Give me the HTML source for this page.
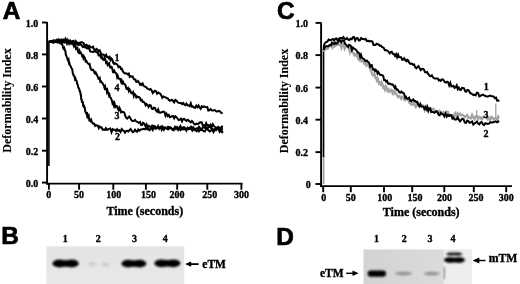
<!DOCTYPE html><html><head><meta charset="utf-8"><style>html,body{margin:0;padding:0;background:#fff;}svg{display:block;will-change:transform}</style></head><body>
<svg width="520" height="284" viewBox="0 0 520 284">
<rect width="520" height="284" fill="#fff"/>
<text x="2.8" y="19.3" font-family="Liberation Sans, sans-serif" font-weight="bold" stroke="#000" stroke-width="0.7" font-size="24.4">A</text>
<text x="277" y="19.2" font-family="Liberation Sans, sans-serif" font-weight="bold" stroke="#000" stroke-width="0.7" font-size="24.4">C</text>
<text x="1.3" y="244.3" font-family="Liberation Sans, sans-serif" font-weight="bold" stroke="#000" stroke-width="0.7" font-size="24.4">B</text>
<text x="276.2" y="245.2" font-family="Liberation Sans, sans-serif" font-weight="bold" stroke="#000" stroke-width="0.7" font-size="24.4">D</text>
<line x1="47.1" y1="22" x2="47.1" y2="184.6" stroke="#000" stroke-width="1.9"/>
<line x1="46.2" y1="183.6" x2="242.5" y2="183.6" stroke="#000" stroke-width="1.9"/>
<line x1="42" y1="22.5" x2="47.1" y2="22.5" stroke="#000" stroke-width="1.9"/>
<text x="38.2" y="26.8" font-family="Liberation Serif, serif" font-weight="bold" stroke="#000" stroke-width="0.35" font-size="10" text-anchor="end">1.0</text>
<line x1="42" y1="54.4" x2="47.1" y2="54.4" stroke="#000" stroke-width="1.9"/>
<text x="38.2" y="58.699999999999996" font-family="Liberation Serif, serif" font-weight="bold" stroke="#000" stroke-width="0.35" font-size="10" text-anchor="end">0.8</text>
<line x1="42" y1="86.5" x2="47.1" y2="86.5" stroke="#000" stroke-width="1.9"/>
<text x="38.2" y="90.8" font-family="Liberation Serif, serif" font-weight="bold" stroke="#000" stroke-width="0.35" font-size="10" text-anchor="end">0.6</text>
<line x1="42" y1="118.5" x2="47.1" y2="118.5" stroke="#000" stroke-width="1.9"/>
<text x="38.2" y="122.8" font-family="Liberation Serif, serif" font-weight="bold" stroke="#000" stroke-width="0.35" font-size="10" text-anchor="end">0.4</text>
<line x1="42" y1="150.7" x2="47.1" y2="150.7" stroke="#000" stroke-width="1.9"/>
<text x="38.2" y="155.0" font-family="Liberation Serif, serif" font-weight="bold" stroke="#000" stroke-width="0.35" font-size="10" text-anchor="end">0.2</text>
<line x1="42" y1="182.6" x2="47.1" y2="182.6" stroke="#000" stroke-width="1.9"/>
<text x="38.2" y="186.9" font-family="Liberation Serif, serif" font-weight="bold" stroke="#000" stroke-width="0.35" font-size="10" text-anchor="end">0.0</text>
<line x1="48.9" y1="183.6" x2="48.9" y2="189.7" stroke="#000" stroke-width="1.9"/>
<text x="48.75" y="198.4" font-family="Liberation Serif, serif" font-weight="bold" stroke="#000" stroke-width="0.35" font-size="10" text-anchor="middle">0</text>
<line x1="79.1" y1="183.6" x2="79.1" y2="189.7" stroke="#000" stroke-width="1.9"/>
<text x="78.9" y="198.4" font-family="Liberation Serif, serif" font-weight="bold" stroke="#000" stroke-width="0.35" font-size="10" text-anchor="middle">50</text>
<line x1="113.3" y1="183.6" x2="113.3" y2="189.7" stroke="#000" stroke-width="1.9"/>
<text x="113.7" y="198.4" font-family="Liberation Serif, serif" font-weight="bold" stroke="#000" stroke-width="0.35" font-size="10" text-anchor="middle">100</text>
<line x1="145.9" y1="183.6" x2="145.9" y2="189.7" stroke="#000" stroke-width="1.9"/>
<text x="148.4" y="198.4" font-family="Liberation Serif, serif" font-weight="bold" stroke="#000" stroke-width="0.35" font-size="10" text-anchor="middle">150</text>
<line x1="177.2" y1="183.6" x2="177.2" y2="189.7" stroke="#000" stroke-width="1.9"/>
<text x="177.1" y="198.4" font-family="Liberation Serif, serif" font-weight="bold" stroke="#000" stroke-width="0.35" font-size="10" text-anchor="middle">200</text>
<line x1="207.3" y1="183.6" x2="207.3" y2="189.7" stroke="#000" stroke-width="1.9"/>
<text x="209.8" y="198.4" font-family="Liberation Serif, serif" font-weight="bold" stroke="#000" stroke-width="0.35" font-size="10" text-anchor="middle">250</text>
<line x1="241.4" y1="183.6" x2="241.4" y2="189.7" stroke="#000" stroke-width="1.9"/>
<text x="241.45" y="198.4" font-family="Liberation Serif, serif" font-weight="bold" stroke="#000" stroke-width="0.35" font-size="10" text-anchor="middle">300</text>
<text x="144.8" y="215.3" font-family="Liberation Serif, serif" font-weight="bold" stroke="#000" stroke-width="0.35" font-size="12" text-anchor="middle">Time (seconds)</text>
<text transform="translate(10.6,100.5) rotate(-90)" font-family="Liberation Serif, serif" font-weight="bold" stroke="#000" stroke-width="0.12" font-size="12" text-anchor="middle">Deformability Index</text>
<line x1="48.9" y1="166" x2="48.9" y2="41.5" stroke="#000" stroke-width="1.6"/>
<path d="M48.8,41.5 L49.7,41.5 L50.9,41.3 L52.3,41.3 L53.7,40.5 L55.0,41.9 L56.2,41.9 L57.3,41.2 L58.4,39.3 L60.0,40.6 L60.9,39.9 L61.9,39.7 L63.0,42.2 L64.1,42.5 L65.3,39.1 L66.5,42.2 L67.7,41.4 L68.9,40.7 L70.0,40.5 L71.1,42.1 L72.2,41.5 L73.4,42.6 L74.5,42.7 L75.6,41.1 L76.7,43.6 L77.8,44.7 L78.9,44.9 L80.0,43.9 L81.2,42.2 L82.5,42.4 L83.8,43.3 L85.0,46.6 L86.3,44.8 L87.4,45.4 L88.5,47.7 L89.4,45.9 L90.9,47.4 L92.0,47.5 L93.0,46.7 L94.0,49.1 L95.2,50.7 L96.4,48.9 L97.6,49.8 L98.7,51.2 L99.7,50.4 L100.7,52.7 L101.6,54.4 L102.5,54.4 L103.7,54.6 L104.8,56.4 L106.1,54.7 L106.9,56.8 L107.7,56.7 L108.6,58.2 L109.6,57.1 L110.5,60.2 L111.4,58.5 L112.3,59.6 L113.2,62.7 L114.1,64.0 L114.9,63.1 L115.8,63.8 L116.7,64.1 L117.6,65.0 L118.4,67.1 L119.3,66.4 L120.2,67.0 L121.0,69.1 L121.9,68.8 L122.9,71.4 L123.9,72.8 L124.9,73.5 L125.9,73.2 L127.0,73.6 L127.9,74.5 L128.8,73.6 L129.7,76.8 L130.6,76.1 L131.6,76.7 L132.6,76.5 L133.5,78.5 L134.4,79.6 L135.4,79.6 L136.3,82.0 L137.2,81.9 L138.1,81.0 L139.1,82.6 L140.0,84.7 L140.9,83.9 L141.8,84.9 L142.7,83.6 L143.6,85.8 L144.5,86.3 L145.5,86.8 L146.5,87.5 L147.5,88.7 L148.5,89.1 L149.6,89.6 L150.6,89.0 L151.7,90.6 L152.8,93.1 L153.9,91.7 L154.9,90.8 L156.0,91.3 L157.1,93.7 L158.2,92.5 L159.2,93.1 L160.3,93.7 L161.3,95.4 L162.3,97.8 L163.4,96.5 L164.4,96.9 L165.5,97.3 L166.5,98.0 L167.6,98.3 L168.8,99.8 L169.8,100.8 L170.8,100.4 L171.9,99.8 L173.1,101.0 L174.2,102.3 L175.3,99.9 L176.5,100.5 L177.6,102.2 L178.7,102.8 L179.8,102.9 L180.9,102.9 L182.0,104.0 L183.1,103.0 L184.2,104.4 L185.3,105.2 L186.4,103.6 L187.5,105.4 L188.6,105.2 L189.7,106.1 L190.8,103.3 L191.9,106.7 L193.0,106.5 L194.1,107.5 L195.2,107.8 L196.3,105.6 L197.4,107.2 L198.5,105.5 L199.6,107.4 L200.7,108.8 L201.8,106.3 L202.9,107.1 L204.0,106.4 L205.1,107.0 L206.2,107.3 L207.3,107.1 L208.3,110.6 L209.4,110.4 L210.5,109.1 L211.6,110.4 L212.8,110.5 L213.9,110.2 L215.1,110.2 L216.4,111.4 L217.7,111.4 L218.9,110.8 L220.1,111.5 L221.1,112.8 L222.0,113.0 L222.7,112.8" fill="none" stroke="#000" stroke-width="2.0" stroke-linejoin="miter"/>
<path d="M48.8,41.5 L49.5,41.4 L50.3,41.5 L51.4,41.8 L52.5,41.2 L53.8,41.2 L55.1,41.4 L56.4,40.0 L57.7,41.1 L58.9,41.5 L60.0,42.1 L61.2,39.6 L62.4,40.4 L63.5,39.7 L64.7,42.3 L65.8,42.0 L66.9,39.8 L68.0,43.3 L69.0,43.3 L70.0,42.4 L71.3,42.4 L72.5,41.0 L73.6,40.8 L74.7,43.0 L75.8,41.6 L77.0,42.5 L78.1,43.1 L79.2,42.7 L80.4,44.7 L81.6,45.1 L82.8,47.0 L83.9,46.4 L85.0,47.3 L86.1,47.3 L87.1,48.4 L88.2,48.3 L89.2,48.2 L90.2,51.3 L91.1,51.8 L92.0,51.7 L93.3,51.9 L94.4,51.1 L95.4,51.4 L96.5,52.2 L97.6,52.1 L98.6,55.3 L99.7,54.7 L100.8,57.2 L101.6,56.3 L102.5,59.3 L103.5,59.8 L104.4,57.7 L105.3,59.4 L106.1,62.8 L106.9,62.1 L107.6,64.8 L108.4,63.6 L109.1,63.2 L109.7,66.1 L110.3,67.4 L111.1,66.7 L111.7,67.0 L112.3,68.8 L113.0,72.2 L113.6,72.3 L114.3,70.9 L115.0,72.4 L115.7,72.8 L116.5,73.7 L117.2,77.2 L117.8,75.9 L118.5,78.1 L119.2,78.7 L120.1,78.8 L121.1,81.9 L121.7,80.5 L122.4,83.1 L123.1,82.1 L123.9,84.0 L124.7,84.2 L125.5,85.3 L126.4,88.7 L127.2,89.0 L128.0,88.1 L128.8,91.0 L129.6,89.4 L130.4,90.8 L131.3,93.3 L132.1,93.3 L133.0,92.1 L133.8,96.0 L134.6,94.0 L135.5,94.8 L136.3,97.4 L137.2,96.5 L138.0,97.1 L138.9,97.0 L139.9,97.8 L140.8,100.4 L141.8,99.9 L142.7,101.9 L143.7,101.8 L144.6,102.7 L145.6,105.2 L146.5,104.1 L147.6,105.2 L148.6,106.9 L149.7,105.0 L150.8,105.5 L151.8,108.8 L152.9,109.1 L153.9,107.6 L154.9,107.9 L156.0,110.4 L157.1,111.7 L158.2,109.5 L159.2,112.6 L160.3,112.8 L161.3,112.3 L162.3,112.1 L163.4,111.5 L164.4,111.9 L165.5,115.8 L166.5,113.8 L167.6,116.0 L168.8,114.9 L169.8,117.3 L170.8,116.9 L171.9,116.1 L173.1,116.0 L174.2,118.3 L175.3,116.3 L176.5,117.2 L177.6,118.7 L178.7,120.1 L179.8,119.6 L180.9,118.7 L182.0,121.4 L183.1,119.1 L184.2,118.8 L185.3,120.0 L186.4,120.9 L187.5,119.8 L188.6,120.4 L189.7,121.4 L190.8,122.3 L191.9,120.9 L193.0,122.0 L194.1,124.1 L195.2,124.6 L196.3,123.7 L197.4,124.0 L198.5,123.9 L199.6,122.5 L200.7,122.3 L201.8,122.5 L202.9,125.9 L204.0,125.3 L205.1,126.4 L206.2,123.2 L207.3,125.6 L208.3,125.1 L209.4,126.2 L210.5,124.8 L211.6,127.4 L212.8,124.3 L213.9,126.1 L215.1,127.0 L216.4,127.8 L217.7,127.4 L218.9,127.5 L220.1,128.0 L221.1,128.6 L222.0,126.7 L222.7,127.3" fill="none" stroke="#000" stroke-width="2.0" stroke-linejoin="miter"/>
<path d="M48.8,41.5 L49.5,41.5 L50.3,41.6 L51.3,41.6 L52.4,40.8 L53.6,40.3 L54.9,41.0 L56.2,40.6 L57.5,42.5 L58.8,42.1 L60.0,41.9 L61.1,41.8 L62.2,42.2 L63.4,40.5 L64.5,41.6 L65.7,40.7 L66.9,43.5 L68.0,40.7 L69.1,43.6 L70.2,41.3 L71.2,43.8 L72.1,43.0 L73.0,43.8 L73.9,46.1 L74.7,43.9 L75.4,44.9 L76.1,48.9 L76.8,48.4 L77.4,47.9 L78.1,52.1 L78.8,52.9 L79.5,50.8 L80.2,52.8 L80.8,52.6 L81.5,54.1 L82.2,56.1 L82.9,55.4 L83.5,58.2 L84.2,56.8 L84.9,58.1 L85.6,61.3 L86.2,60.7 L86.9,61.7 L87.6,63.2 L88.3,63.7 L89.0,64.3 L89.6,64.0 L90.3,67.4 L91.0,69.2 L91.7,70.1 L92.4,69.9 L93.0,69.7 L93.7,70.6 L94.3,72.6 L95.0,73.5 L95.7,72.5 L96.4,73.9 L97.1,75.3 L97.8,76.8 L98.4,78.8 L99.0,78.6 L99.7,77.9 L100.3,81.7 L101.0,81.3 L101.7,82.7 L102.4,82.8 L103.2,84.6 L103.8,85.5 L104.5,87.9 L105.1,86.5 L105.6,89.0 L106.3,88.9 L106.9,91.8 L107.4,90.4 L107.9,92.2 L108.4,93.4 L109.0,95.6 L109.5,94.7 L110.1,97.4 L110.7,97.7 L111.3,99.0 L111.9,100.7 L112.5,103.4 L113.1,102.6 L113.8,105.3 L114.5,103.3 L115.3,106.9 L116.2,105.8 L117.0,106.0 L117.9,108.8 L118.7,110.2 L119.5,107.8 L120.3,109.6 L121.1,112.3 L121.9,111.6 L122.7,112.0 L123.5,112.0 L124.4,112.9 L125.2,115.7 L126.1,117.7 L127.2,118.6 L128.2,117.5 L129.3,116.5 L130.4,118.2 L131.5,120.4 L132.7,121.1 L133.8,120.9 L135.0,119.9 L136.2,121.5 L137.3,121.8 L138.6,122.8 L140.0,122.0 L141.0,124.8 L142.0,125.0 L143.1,122.8 L144.2,123.6 L145.4,126.1 L146.5,124.3 L147.6,127.0 L148.8,125.8 L150.0,126.7 L151.1,127.1 L152.3,125.5 L153.6,126.0 L155.0,126.1 L156.0,127.8 L157.0,127.9 L158.1,126.0 L159.3,128.7 L160.4,127.1 L161.6,126.5 L162.7,127.3 L163.9,129.3 L165.0,127.8 L166.1,128.1 L167.1,129.2 L168.1,129.4 L169.2,128.7 L170.2,127.4 L171.3,128.1 L172.4,129.2 L173.7,128.8 L175.0,128.1 L176.0,127.3 L177.0,127.4 L178.1,128.7 L179.2,128.1 L180.4,126.1 L181.6,128.6 L182.8,129.4 L184.0,129.0 L185.2,129.4 L186.4,129.4 L187.6,128.1 L188.8,129.0 L190.0,127.6 L191.1,126.6 L192.3,127.5 L193.4,127.4 L194.5,129.6 L195.6,128.8 L196.8,128.3 L197.9,128.6 L199.0,126.8 L200.2,128.3 L201.4,128.9 L202.5,127.9 L203.8,127.4 L205.0,128.0 L206.1,127.7 L207.2,129.0 L208.4,127.1 L209.7,126.9 L210.9,127.8 L212.2,129.2 L213.5,129.5 L214.8,129.1 L216.0,130.2 L217.2,128.2 L218.4,127.0 L219.5,128.7 L220.4,128.5 L221.3,127.6 L222.1,129.4 L222.7,128.8" fill="none" stroke="#000" stroke-width="2.0" stroke-linejoin="miter"/>
<path d="M48.8,41.8 L49.7,41.7 L50.9,42.0 L52.3,42.2 L53.7,42.7 L55.0,41.1 L56.2,41.1 L57.3,40.5 L58.4,40.7 L59.4,42.7 L60.5,41.3 L61.1,43.4 L61.6,43.1 L62.2,44.3 L62.7,45.9 L63.3,48.5 L63.8,49.0 L64.3,48.1 L64.9,50.3 L65.4,51.1 L65.8,54.7 L66.2,55.5 L66.6,56.5 L67.0,57.6 L67.4,58.4 L67.8,60.3 L68.2,60.8 L68.6,60.0 L69.0,63.2 L69.4,63.0 L69.8,65.1 L70.2,65.4 L70.6,66.1 L71.0,66.9 L71.5,68.2 L71.9,68.9 L72.3,69.2 L72.7,72.8 L73.1,73.8 L73.5,75.5 L73.9,75.6 L74.4,76.2 L74.8,78.1 L75.2,76.9 L75.6,80.0 L76.0,80.2 L76.4,80.4 L76.8,81.7 L77.2,84.0 L77.6,84.2 L78.0,86.1 L78.3,87.7 L78.7,88.1 L79.1,88.2 L79.4,90.6 L79.7,90.6 L80.1,91.9 L80.4,92.9 L80.6,94.6 L80.9,94.6 L81.1,97.7 L81.3,99.8 L81.6,98.8 L81.8,101.1 L82.1,102.9 L82.5,100.9 L82.8,102.2 L83.2,105.7 L83.6,106.8 L84.0,107.2 L84.4,106.6 L84.9,108.7 L85.3,111.4 L85.8,112.5 L86.2,113.3 L86.6,112.1 L87.1,115.4 L87.5,114.5 L88.1,117.0 L88.7,116.0 L89.3,120.0 L89.9,119.6 L90.5,120.9 L91.2,119.9 L91.8,122.1 L92.5,122.8 L93.3,123.7 L94.2,123.7 L95.1,125.8 L96.0,125.1 L96.9,125.6 L97.8,125.7 L98.8,128.2 L99.7,126.6 L100.7,127.5 L101.6,127.3 L102.6,129.7 L103.7,129.6 L105.0,129.9 L105.9,128.2 L107.0,129.8 L108.1,129.6 L109.2,128.8 L110.3,128.5 L111.5,132.2 L112.7,129.1 L113.9,129.8 L115.0,129.8 L116.1,131.0 L117.2,129.2 L118.3,130.7 L119.4,130.3 L120.6,132.0 L121.7,129.1 L122.8,130.3 L123.9,130.9 L125.0,132.6 L126.1,131.0 L127.2,130.8 L128.3,131.5 L129.4,130.1 L130.6,129.1 L131.7,130.8 L132.8,132.2 L133.9,131.5 L135.0,129.7 L136.1,131.2 L137.2,131.7 L138.3,129.5 L139.4,130.6 L140.6,129.7 L141.7,129.2 L142.8,129.2 L143.9,128.8 L145.0,129.3 L146.1,128.0 L147.2,129.2 L148.3,127.9 L149.4,130.2 L150.6,129.4 L151.7,127.2 L152.8,129.8 L153.9,127.6 L155.0,128.5 L156.1,128.7 L157.2,127.9 L158.3,127.7 L159.4,128.2 L160.6,127.1 L161.7,129.7 L162.8,127.0 L163.9,129.6 L165.0,127.4 L166.1,127.7 L167.1,128.0 L168.1,126.7 L169.2,127.1 L170.2,128.0 L171.3,128.3 L172.4,129.9 L173.7,130.3 L175.0,127.0 L176.0,128.8 L177.0,127.3 L178.1,129.8 L179.2,128.1 L180.4,130.2 L181.6,129.1 L182.8,127.6 L184.0,127.2 L185.2,128.2 L186.4,130.5 L187.6,127.9 L188.8,129.2 L190.0,128.8 L191.1,128.8 L192.3,130.5 L193.4,128.4 L194.5,130.3 L195.6,130.2 L196.8,131.2 L197.9,129.7 L199.0,131.2 L200.2,129.5 L201.4,130.1 L202.5,130.3 L203.8,131.2 L205.0,131.4 L206.1,128.7 L207.2,128.8 L208.4,130.3 L209.7,131.4 L210.9,130.4 L212.2,129.7 L213.5,132.1 L214.8,129.8 L216.0,129.1 L217.2,129.1 L218.4,129.1 L219.5,131.6 L220.4,129.5 L221.3,131.7 L222.1,132.3 L222.7,131.0" fill="none" stroke="#000" stroke-width="2.0" stroke-linejoin="miter"/>
<text x="117" y="61" font-family="Liberation Serif, serif" font-weight="bold" stroke="#000" stroke-width="0.35" font-size="10" text-anchor="middle">1</text>
<text x="117" y="91.3" font-family="Liberation Serif, serif" font-weight="bold" stroke="#000" stroke-width="0.35" font-size="10" text-anchor="middle">4</text>
<text x="117" y="119.2" font-family="Liberation Serif, serif" font-weight="bold" stroke="#000" stroke-width="0.35" font-size="10" text-anchor="middle">3</text>
<text x="117.5" y="140" font-family="Liberation Serif, serif" font-weight="bold" stroke="#000" stroke-width="0.35" font-size="10" text-anchor="middle">2</text>
<line x1="321.1" y1="22.5" x2="321.1" y2="187.1" stroke="#000" stroke-width="1.9"/>
<line x1="320.20000000000005" y1="186.1" x2="512" y2="186.1" stroke="#000" stroke-width="1.9"/>
<line x1="315.5" y1="22.9" x2="321.1" y2="22.9" stroke="#000" stroke-width="1.9"/>
<text x="308.0" y="27.2" font-family="Liberation Serif, serif" font-weight="bold" stroke="#000" stroke-width="0.35" font-size="10" text-anchor="end">1.0</text>
<line x1="315.5" y1="55.1" x2="321.1" y2="55.1" stroke="#000" stroke-width="1.9"/>
<text x="308.0" y="59.4" font-family="Liberation Serif, serif" font-weight="bold" stroke="#000" stroke-width="0.35" font-size="10" text-anchor="end">0.8</text>
<line x1="315.5" y1="87.6" x2="321.1" y2="87.6" stroke="#000" stroke-width="1.9"/>
<text x="308.0" y="91.89999999999999" font-family="Liberation Serif, serif" font-weight="bold" stroke="#000" stroke-width="0.35" font-size="10" text-anchor="end">0.6</text>
<line x1="315.5" y1="119.7" x2="321.1" y2="119.7" stroke="#000" stroke-width="1.9"/>
<text x="308.0" y="124.0" font-family="Liberation Serif, serif" font-weight="bold" stroke="#000" stroke-width="0.35" font-size="10" text-anchor="end">0.4</text>
<line x1="315.5" y1="152.1" x2="321.1" y2="152.1" stroke="#000" stroke-width="1.9"/>
<text x="308.0" y="156.4" font-family="Liberation Serif, serif" font-weight="bold" stroke="#000" stroke-width="0.35" font-size="10" text-anchor="end">0.2</text>
<line x1="315.5" y1="184.0" x2="321.1" y2="184.0" stroke="#000" stroke-width="1.9"/>
<text x="310.7" y="188.3" font-family="Liberation Serif, serif" font-weight="bold" stroke="#000" stroke-width="0.35" font-size="10" text-anchor="end">0</text>
<line x1="323.2" y1="186.1" x2="323.2" y2="192.2" stroke="#000" stroke-width="1.9"/>
<text x="323.85" y="201.2" font-family="Liberation Serif, serif" font-weight="bold" stroke="#000" stroke-width="0.35" font-size="10" text-anchor="middle">0</text>
<line x1="350.8" y1="186.1" x2="350.8" y2="192.2" stroke="#000" stroke-width="1.9"/>
<text x="350.85" y="201.2" font-family="Liberation Serif, serif" font-weight="bold" stroke="#000" stroke-width="0.35" font-size="10" text-anchor="middle">50</text>
<line x1="384.0" y1="186.1" x2="384.0" y2="192.2" stroke="#000" stroke-width="1.9"/>
<text x="384.85" y="201.2" font-family="Liberation Serif, serif" font-weight="bold" stroke="#000" stroke-width="0.35" font-size="10" text-anchor="middle">100</text>
<line x1="412.2" y1="186.1" x2="412.2" y2="192.2" stroke="#000" stroke-width="1.9"/>
<text x="415" y="201.2" font-family="Liberation Serif, serif" font-weight="bold" stroke="#000" stroke-width="0.35" font-size="10" text-anchor="middle">150</text>
<line x1="444.3" y1="186.1" x2="444.3" y2="192.2" stroke="#000" stroke-width="1.9"/>
<text x="444.6" y="201.2" font-family="Liberation Serif, serif" font-weight="bold" stroke="#000" stroke-width="0.35" font-size="10" text-anchor="middle">200</text>
<line x1="473.8" y1="186.1" x2="473.8" y2="192.2" stroke="#000" stroke-width="1.9"/>
<text x="476" y="201.2" font-family="Liberation Serif, serif" font-weight="bold" stroke="#000" stroke-width="0.35" font-size="10" text-anchor="middle">250</text>
<line x1="506.2" y1="186.1" x2="506.2" y2="192.2" stroke="#000" stroke-width="1.9"/>
<text x="506.3" y="201.2" font-family="Liberation Serif, serif" font-weight="bold" stroke="#000" stroke-width="0.35" font-size="10" text-anchor="middle">300</text>
<text x="421.2" y="216.3" font-family="Liberation Serif, serif" font-weight="bold" stroke="#000" stroke-width="0.35" font-size="12" text-anchor="middle">Time (seconds)</text>
<text transform="translate(287.7,101) rotate(-90)" font-family="Liberation Serif, serif" font-weight="bold" stroke="#000" stroke-width="0.12" font-size="12" text-anchor="middle">Deformability Index</text>
<line x1="323.6" y1="184" x2="323.6" y2="156" stroke="#999" stroke-width="1.6"/>
<line x1="323.5" y1="157" x2="323.5" y2="49" stroke="#000" stroke-width="1.7"/>
<path d="M323.6,52.0 L324.2,50.6 L325.6,49.1 L326.5,48.8 L327.6,48.8 L328.8,46.8 L330.1,45.9 L331.3,45.6 L332.4,47.4 L333.5,44.1 L334.7,46.3 L335.8,45.5 L336.9,42.8 L338.0,44.7 L339.1,44.4 L340.3,44.5 L341.4,47.6 L342.5,43.8 L343.6,43.9 L344.7,48.6 L345.8,46.7 L347.0,46.4 L348.2,47.7 L349.0,48.4 L349.9,51.8 L350.7,49.0 L351.6,49.7 L352.5,52.1 L353.4,52.7 L354.3,55.3 L355.2,55.6 L356.1,54.1 L357.0,54.2 L357.9,58.0 L358.8,59.5 L359.7,55.9 L360.6,60.0 L361.5,61.4 L362.3,61.2 L363.2,60.0 L364.1,63.5 L364.9,64.0 L365.7,62.3 L366.4,65.1 L367.2,63.9 L367.9,63.9 L368.7,66.1 L369.4,67.0 L370.0,68.1 L370.7,70.1 L371.4,72.0 L372.1,73.6 L372.6,74.5 L373.2,75.5 L373.7,75.5 L374.3,74.3 L374.8,74.7 L375.4,77.7 L376.1,78.4 L376.7,79.9 L377.4,78.1 L378.1,79.4 L378.9,83.6 L379.8,83.0 L380.6,84.2 L381.5,82.3 L382.3,84.4 L383.2,87.5 L384.0,87.0 L384.8,89.3 L385.8,86.4 L386.7,88.3 L387.5,90.6 L388.4,89.6 L389.3,91.8 L390.2,91.4 L391.1,89.9 L392.1,90.4 L393.1,95.1 L394.1,91.6 L395.1,92.5 L396.2,93.7 L397.2,95.9 L398.2,97.1 L399.2,96.0 L400.2,96.7 L401.2,98.6 L402.2,96.9 L403.2,97.9 L404.2,99.6 L405.2,100.2 L406.2,98.0 L407.2,98.8 L408.2,99.5 L409.3,102.6 L410.3,103.0 L411.3,104.7 L412.3,104.2 L413.5,102.4 L414.7,105.3 L415.8,106.9 L417.0,104.5 L418.2,103.5 L419.3,105.6 L420.4,105.6 L421.5,105.6 L422.6,105.3 L423.7,106.1 L424.8,109.8 L426.0,106.4 L427.2,109.4 L428.4,107.8 L429.6,108.0 L430.8,111.2 L432.1,109.1 L433.4,108.8 L434.6,110.3 L435.8,111.7 L437.0,111.1 L438.2,112.9 L439.4,111.0 L440.7,111.9 L441.9,113.0 L443.1,112.1 L444.3,113.6 L445.5,112.7 L446.7,111.5 L447.9,111.7 L449.1,115.1 L450.3,115.1 L451.5,116.3 L452.7,115.3 L453.9,115.0 L455.2,113.3 L456.4,116.6 L457.6,113.4 L458.8,115.0 L460.0,113.8 L461.2,115.1 L462.4,114.9 L463.6,115.6 L464.8,117.1 L466.0,116.4 L467.2,115.2 L468.4,117.8 L469.6,117.8 L470.8,118.4 L472.1,114.9 L473.3,117.7 L474.5,119.1 L475.7,116.3 L476.9,116.1 L478.1,119.0 L479.3,117.0 L480.5,117.3 L481.7,119.3 L482.9,117.4 L484.1,116.6 L485.3,116.8 L486.6,117.6 L487.8,119.3 L489.0,118.0 L490.2,120.0 L491.4,116.8 L492.5,117.6 L493.8,119.3 L495.0,118.4 L496.3,118.2 L497.4,119.9 L498.3,116.6 L499.0,117.5" fill="none" stroke="#a4a4a4" stroke-width="2.4" stroke-linejoin="miter"/>
<path d="M476.7,117.5 L476.7,110.3 M495.8,119 L495.8,103.5" stroke="#a0a0a0" stroke-width="1.3" fill="none"/>
<path d="M323.6,50.0 L324.2,48.5 L325.2,47.0 L326.5,46.0 L328.0,46.4 L329.5,45.1 L331.0,45.3 L331.9,42.6 L332.9,43.4 L334.1,44.0 L335.1,42.6 L336.2,43.7 L337.4,43.2 L338.6,41.2 L339.7,39.7 L341.2,42.4 L342.5,40.4 L343.9,40.4 L344.9,43.6 L346.0,44.8 L347.0,45.6 L348.2,46.9 L349.1,44.9 L350.0,45.1 L350.9,46.0 L351.9,49.9 L352.9,47.5 L353.8,48.5 L354.7,48.8 L355.7,49.7 L356.6,50.4 L357.5,52.4 L358.5,52.5 L359.4,53.9 L360.2,56.9 L361.0,54.9 L361.9,57.9 L362.7,58.4 L363.5,58.6 L364.3,59.3 L365.1,60.8 L366.0,61.0 L366.9,60.5 L367.7,61.7 L368.6,62.2 L369.4,63.6 L370.2,66.6 L371.0,65.4 L371.7,65.1 L372.4,67.5 L373.1,69.6 L374.0,69.3 L374.9,71.2 L375.7,69.8 L376.6,70.5 L377.5,73.5 L378.4,72.1 L379.4,73.8 L380.4,75.0 L381.4,75.1 L382.3,75.3 L383.2,76.0 L384.2,80.2 L385.2,80.1 L386.2,81.8 L387.1,81.0 L388.0,83.4 L388.9,83.8 L389.7,83.5 L390.8,84.1 L391.7,84.7 L392.6,84.4 L393.5,85.6 L394.6,87.8 L395.4,86.6 L396.4,89.8 L397.4,89.5 L398.4,90.7 L399.4,92.4 L400.4,92.6 L401.3,91.6 L402.0,92.6 L403.2,92.8 L404.0,93.5 L405.2,97.6 L406.0,96.9 L406.9,98.8 L408.0,98.7 L409.1,97.7 L410.2,100.7 L411.3,101.2 L412.3,100.1 L413.3,99.4 L414.3,100.9 L415.3,100.9 L416.3,102.3 L417.3,101.8 L418.3,104.7 L419.3,106.2 L420.3,104.0 L421.3,106.6 L422.3,106.4 L423.3,106.6 L424.3,108.7 L425.3,107.3 L426.3,109.4 L427.3,107.0 L428.3,110.9 L429.3,108.5 L430.3,108.4 L431.3,112.0 L432.3,111.9 L433.4,112.1 L434.4,112.8 L435.4,111.8 L436.5,111.2 L437.6,112.3 L438.7,114.9 L439.7,115.3 L440.8,112.9 L441.9,114.0 L443.1,114.4 L444.3,116.3 L445.5,113.4 L446.7,116.6 L447.9,114.9 L449.1,116.2 L450.3,115.1 L451.4,115.2 L452.4,118.4 L453.5,117.4 L454.6,119.5 L455.6,119.5 L456.7,119.4 L457.7,117.3 L458.8,119.5 L460.0,121.3 L461.2,119.9 L462.4,118.7 L463.6,119.4 L464.8,122.7 L466.0,122.9 L467.2,120.6 L468.4,121.1 L469.6,122.8 L470.8,122.4 L472.1,121.5 L473.3,124.6 L474.5,123.5 L475.7,122.7 L476.9,121.6 L478.1,123.5 L479.3,124.4 L480.5,122.4 L481.7,122.1 L482.9,124.4 L484.1,125.1 L485.3,123.2 L486.6,123.5 L487.8,124.0 L489.0,123.6 L490.2,122.1 L491.4,122.6 L492.5,122.2 L494.0,122.0 L495.5,121.4 L497.0,122.3 L498.1,121.4 L499.0,122.3" fill="none" stroke="#000" stroke-width="2.0" stroke-linejoin="miter"/>
<path d="M323.6,49.0 L323.7,48.2 L323.8,47.0 L324.0,45.8 L324.3,44.4 L325.0,43.1 L326.0,42.2 L327.3,41.6 L328.7,39.5 L330.2,40.1 L331.8,39.6 L332.9,39.0 L334.1,40.4 L335.5,38.7 L336.5,38.4 L337.5,40.2 L338.7,39.1 L339.9,38.0 L341.1,38.0 L342.2,38.7 L343.4,37.0 L344.6,38.9 L345.8,39.3 L347.0,38.1 L348.2,39.6 L349.4,40.0 L350.5,38.7 L351.7,39.2 L352.9,37.2 L354.0,37.1 L355.2,40.5 L356.4,38.1 L357.6,38.0 L358.8,40.5 L360.0,40.1 L361.2,38.0 L362.3,39.0 L363.5,39.0 L364.6,39.4 L365.7,38.8 L366.8,41.1 L367.9,40.7 L369.0,41.4 L370.1,41.1 L371.2,41.2 L372.3,41.4 L373.5,44.9 L374.5,44.9 L375.6,44.8 L376.7,43.7 L377.8,44.3 L378.9,44.7 L379.9,45.9 L381.0,45.6 L382.0,47.0 L382.9,47.4 L383.8,47.9 L384.8,50.2 L385.8,50.0 L386.7,50.6 L387.6,50.7 L388.6,51.9 L389.7,53.3 L390.7,52.1 L391.7,51.8 L392.8,53.8 L393.9,54.0 L395.0,56.0 L396.1,54.1 L397.1,57.3 L398.1,54.7 L399.1,57.1 L400.1,57.2 L401.2,57.3 L402.2,59.9 L403.2,59.7 L404.2,58.3 L405.2,60.1 L406.2,61.1 L407.2,59.6 L408.2,60.3 L409.2,62.8 L410.2,63.8 L411.2,63.5 L412.2,63.9 L413.2,64.8 L414.2,64.5 L415.2,67.3 L416.3,68.3 L417.3,67.1 L418.4,66.1 L419.5,68.0 L420.7,70.1 L421.8,69.0 L422.9,68.8 L424.0,69.7 L425.0,72.2 L426.1,72.5 L427.1,71.9 L428.0,73.7 L428.9,74.8 L429.8,76.1 L430.8,76.2 L431.8,75.3 L432.9,77.2 L433.9,78.2 L434.9,78.5 L435.9,78.6 L436.9,78.5 L437.9,78.7 L438.8,80.4 L439.7,80.0 L440.7,80.8 L441.9,79.5 L442.8,79.4 L443.8,80.5 L444.8,82.1 L445.9,82.6 L447.0,81.7 L448.1,82.2 L449.2,85.4 L450.3,82.8 L451.4,86.3 L452.4,86.2 L453.5,85.9 L454.6,87.9 L455.6,87.2 L456.7,85.3 L457.7,89.1 L458.8,87.6 L459.9,89.8 L460.9,89.9 L462.0,87.8 L463.0,87.9 L464.0,88.2 L465.1,91.3 L466.1,91.8 L467.2,90.1 L468.3,90.1 L469.3,91.4 L470.4,93.4 L471.4,93.5 L472.5,94.4 L473.6,95.1 L474.6,94.7 L475.7,95.3 L476.9,92.7 L478.1,93.0 L479.3,96.4 L480.5,95.8 L481.7,95.1 L482.9,94.6 L484.1,95.6 L485.3,95.8 L486.6,96.6 L487.9,96.6 L489.1,95.9 L490.3,95.6 L491.5,96.3 L492.5,96.3 L493.8,96.6 L495.0,98.2 L496.1,97.7 L497.1,100.6 L497.8,100.2 L498.7,100.8 L499.0,101.5" fill="none" stroke="#000" stroke-width="2.0" stroke-linejoin="miter"/>
<text x="486.3" y="89.5" font-family="Liberation Serif, serif" font-weight="bold" stroke="#000" stroke-width="0.35" font-size="10" text-anchor="middle">1</text>
<text x="486.1" y="118" font-family="Liberation Serif, serif" font-weight="bold" stroke="#000" stroke-width="0.35" font-size="10" text-anchor="middle">3</text>
<text x="486.1" y="137.3" font-family="Liberation Serif, serif" font-weight="bold" stroke="#000" stroke-width="0.35" font-size="10" text-anchor="middle">2</text>
<defs><filter id="bl" x="-50%" y="-100%" width="200%" height="300%"><feGaussianBlur stdDeviation="0.8"/></filter><filter id="bl2" x="-50%" y="-100%" width="200%" height="300%"><feGaussianBlur stdDeviation="1.4"/></filter><linearGradient id="gB" x1="0" y1="0" x2="0" y2="1"><stop offset="0" stop-color="#e3e3e3"/><stop offset="1" stop-color="#e9e9e9"/></linearGradient><linearGradient id="gD" x1="0" y1="0" x2="1" y2="0"><stop offset="0" stop-color="#d3d3d3"/><stop offset="1" stop-color="#dbdbdb"/></linearGradient></defs>
<rect x="46.4" y="246.3" width="137.8" height="37.7" fill="url(#gB)"/>
<text x="65.2" y="242.3" font-family="Liberation Serif, serif" font-weight="bold" stroke="#000" stroke-width="0.35" font-size="10" text-anchor="middle">1</text>
<text x="98.3" y="242.3" font-family="Liberation Serif, serif" font-weight="bold" stroke="#000" stroke-width="0.35" font-size="10" text-anchor="middle">2</text>
<text x="134.5" y="242.3" font-family="Liberation Serif, serif" font-weight="bold" stroke="#000" stroke-width="0.35" font-size="10" text-anchor="middle">3</text>
<text x="165.3" y="242.3" font-family="Liberation Serif, serif" font-weight="bold" stroke="#000" stroke-width="0.35" font-size="10" text-anchor="middle">4</text>
<g fill="#000" filter="url(#bl)"><ellipse cx="59.528" cy="263.5" rx="7.128" ry="3.9"/><ellipse cx="71.672" cy="263.5" rx="7.128" ry="3.9"/><rect x="57.68" y="260.2" width="15.839999999999998" height="6.6"/></g>
<g fill="#000" filter="url(#bl)"><ellipse cx="128.15" cy="263.6" rx="6.75" ry="3.8"/><ellipse cx="139.65" cy="263.6" rx="6.75" ry="3.8"/><rect x="126.4" y="260.35" width="15.0" height="6.5"/></g>
<g fill="#000" filter="url(#bl)"><ellipse cx="161.42000000000002" cy="263.3" rx="7.0200000000000005" ry="3.9"/><ellipse cx="173.38" cy="263.3" rx="7.0200000000000005" ry="3.9"/><rect x="159.6" y="260.0" width="15.6" height="6.6"/></g>
<ellipse cx="92.5" cy="264" rx="4" ry="1.6" fill="#c4c4c4" filter="url(#bl2)"/>
<ellipse cx="105.5" cy="264.6" rx="4.5" ry="1.6" fill="#c4c4c4" filter="url(#bl2)"/>
<path d="M189,264.1 L198.6,264.1" stroke="#000" stroke-width="1.8"/><path d="M185,264.1 L191.2,261.5 L191.2,266.7 Z" fill="#000"/>
<text x="202.3" y="267.6" font-family="Liberation Serif, serif" font-weight="bold" stroke="#000" stroke-width="0.35" font-size="11.5">eTM</text>
<rect x="363.5" y="249.4" width="80.3" height="34.6" fill="url(#gD)"/>
<rect x="443.8" y="249.2" width="28.2" height="34.8" fill="#ededed"/>
<rect x="443.7" y="267" width="1.3" height="12" fill="#707070" filter="url(#bl)"/>
<text x="376.6" y="242.4" font-family="Liberation Serif, serif" font-weight="bold" stroke="#000" stroke-width="0.35" font-size="10" text-anchor="middle">1</text>
<text x="404.2" y="242.4" font-family="Liberation Serif, serif" font-weight="bold" stroke="#000" stroke-width="0.35" font-size="10" text-anchor="middle">2</text>
<text x="430" y="242.4" font-family="Liberation Serif, serif" font-weight="bold" stroke="#000" stroke-width="0.35" font-size="10" text-anchor="middle">3</text>
<text x="453" y="242.4" font-family="Liberation Serif, serif" font-weight="bold" stroke="#000" stroke-width="0.35" font-size="10" text-anchor="middle">4</text>
<rect x="367.6" y="270.4" width="18.4" height="6.3" rx="3" fill="#000" filter="url(#bl)"/>
<ellipse cx="403.4" cy="273.5" rx="8.6" ry="1.9" fill="#959595" filter="url(#bl)"/>
<ellipse cx="431.8" cy="273.6" rx="8" ry="1.9" fill="#959595" filter="url(#bl)"/>
<g fill="#000" filter="url(#bl)"><ellipse cx="449.643" cy="260.0" rx="5.6429999999999945" ry="2.7"/><ellipse cx="459.257" cy="260.0" rx="5.6429999999999945" ry="2.7"/><rect x="448.18" y="257.5" width="12.539999999999987" height="5.0"/></g>
<g fill="#1e1e1e" filter="url(#bl)"><ellipse cx="450.666" cy="254.0" rx="4.266000000000004" ry="1.6"/><ellipse cx="457.93399999999997" cy="254.0" rx="4.266000000000004" ry="1.6"/><rect x="449.56" y="252.6" width="9.480000000000006" height="2.8"/></g>
<text x="320" y="277.3" font-family="Liberation Serif, serif" font-weight="bold" stroke="#000" stroke-width="0.35" font-size="11.5">eTM</text>
<path d="M346.2,273.3 L353.5,273.3" stroke="#000" stroke-width="1.4"/><path d="M358.6,273.3 L352.5,270.6 L352.5,276.0 Z" fill="#000"/>
<path d="M478,260.5 L485.6,260.5" stroke="#000" stroke-width="1.4"/><path d="M472.6,260.5 L479.3,257.6 L479.3,263.4 Z" fill="#000"/>
<text x="488.7" y="262.0" font-family="Liberation Serif, serif" font-weight="bold" stroke="#000" stroke-width="0.35" font-size="11.7">mTM</text>
</svg></body></html>
